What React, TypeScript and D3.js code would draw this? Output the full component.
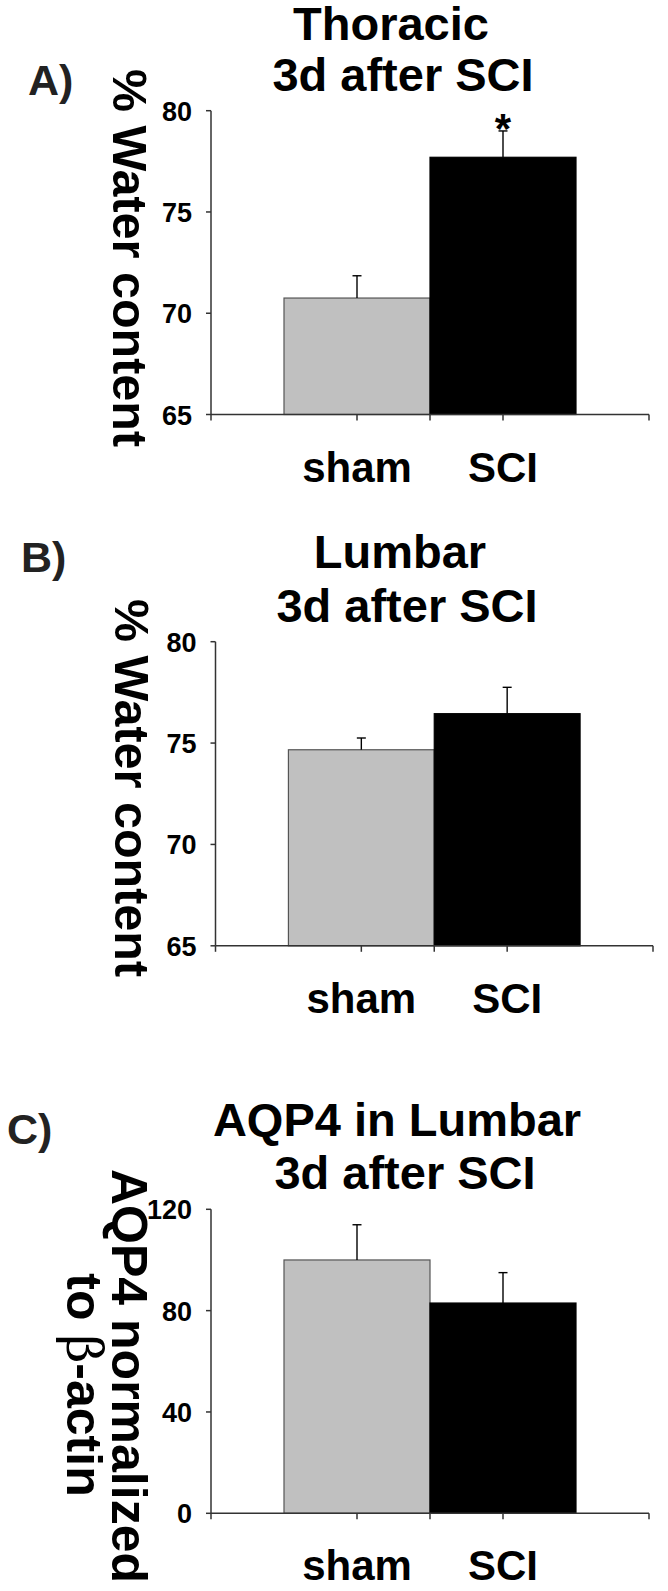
import React from "react";
import * as d3 from "d3";

// ---- data ----
const categories = ["sham", "SCI"];
const thoracicMean = [70.75, 77.7];
const thoracicSem = [1.1, 1.3];
const lumbarMean = [74.67, 76.45];
const lumbarSem = [0.58, 1.3];
const aqp4Mean = [100, 83];
const aqp4Sem = [13.9, 12];
const waterTicks = [65, 70, 75, 80];
const aqp4Ticks = [0, 40, 80, 120];
const barColors = ["#c0c0c0", "#000000"];
const significant = [false, true];

const FONT = "'Liberation Sans', Arial, Helvetica, sans-serif";

type PanelProps = {
  letter: string;
  letterX: number;
  letterY: number;
  titleLines: { text: string; cx: number; y: number }[];
  yLabelLines: { text: React.ReactNode; x: number; cy: number }[];
  yLabelSize: number;
  means: number[];
  sems: number[];
  stars: boolean[];
  ticks: number[];
  domain: [number, number];
  x0: number;
  x1: number;
  yTop: number;
  yBottom: number;
};

function Panel(p: PanelProps) {
  const y = d3.scaleLinear().domain(p.domain).range([p.yBottom, p.yTop]);
  const n = categories.length;
  const x = d3.scaleLinear().domain([0, n + 1]).range([p.x0, p.x1]);
  const xTicks = [0, ...categories.map((_, i) => i + 1), 1.5, n + 1];
  const capW = 9;
  return (
    <g>
      <text x={p.letterX} y={p.letterY} fontFamily={FONT} fontWeight="bold" fontSize={43} fill="#222">
        {p.letter}
      </text>
      {p.titleLines.map((t, i) => (
        <text key={i} x={t.cx} y={t.y} textAnchor="middle" fontFamily={FONT} fontWeight="bold" fontSize={47} fill="#000">
          {t.text}
        </text>
      ))}
      {p.yLabelLines.map((t, i) => (
        <text
          key={i}
          transform={`translate(${t.x},${t.cy}) rotate(90)`}
          textAnchor="middle"
          fontFamily={FONT}
          fontWeight="bold"
          fontSize={p.yLabelSize}
          fill="#000"
        >
          {t.text}
        </text>
      ))}
      {/* bars */}
      {p.means.map((m, i) => (
        <rect
          key={i}
          x={x(i + 0.5)}
          y={y(m)}
          width={x(i + 1.5) - x(i + 0.5)}
          height={y(p.domain[0]) - y(m)}
          fill={barColors[i]}
          stroke={i === 0 ? "#555" : "#000"}
          strokeWidth={1.2}
        />
      ))}
      {/* error bars */}
      {p.means.map((m, i) => {
        const cx = x(i + 1);
        const top = y(m + p.sems[i]);
        return (
          <g key={i} stroke="#000" strokeWidth={1.4}>
            <line x1={cx} x2={cx} y1={y(m)} y2={top} />
            <line x1={cx - capW / 2} x2={cx + capW / 2} y1={top} y2={top} />
          </g>
        );
      })}
      {p.stars.map((s, i) =>
        s ? (
          <text
            key={i}
            x={x(i + 1)}
            y={y(p.means[i] + p.sems[i]) + 12}
            textAnchor="middle"
            fontFamily={FONT}
            fontWeight="bold"
            fontSize={42}
          >
            *
          </text>
        ) : null
      )}
      {/* y axis */}
      <line x1={p.x0} x2={p.x0} y1={p.yTop} y2={p.yBottom} stroke="#333" strokeWidth={1.5} />
      {p.ticks.map((t) => (
        <g key={t}>
          <line x1={p.x0 - 5} x2={p.x0} y1={y(t)} y2={y(t)} stroke="#333" strokeWidth={1.5} />
          <text
            x={p.x0 - 19}
            y={y(t) + 10}
            textAnchor="end"
            fontFamily={FONT}
            fontWeight="bold"
            fontSize={27}
            fill="#000"
          >
            {t}
          </text>
        </g>
      ))}
      {/* x axis */}
      <line x1={p.x0} x2={p.x1} y1={p.yBottom} y2={p.yBottom} stroke="#333" strokeWidth={1.5} />
      {xTicks.map((t, i) => (
        <line key={i} x1={x(t)} x2={x(t)} y1={p.yBottom} y2={p.yBottom + 6} stroke="#333" strokeWidth={1.5} />
      ))}
      {categories.map((c, i) => (
        <text
          key={c}
          x={x(i + 1)}
          y={p.yBottom + 67}
          textAnchor="middle"
          fontFamily={FONT}
          fontWeight="bold"
          fontSize={42}
          fill="#000"
        >
          {c}
        </text>
      ))}
    </g>
  );
}

export default function App() {
  return (
    <svg
      width={668}
      height={1591}
      viewBox="0 0 668 1591"
      style={{ position: "absolute", left: 0, top: 0, background: "#fff" }}
    >
      <rect x={0} y={0} width={668} height={1591} fill="#fff" />
      <Panel
        letter="A)"
        letterX={28}
        letterY={95}
        titleLines={[
          { text: "Thoracic", cx: 391, y: 40 },
          { text: "3d after SCI", cx: 403, y: 91 },
        ]}
        yLabelLines={[{ text: "% Water content", x: 113, cy: 258 }]}
        yLabelSize={48.5}
        means={thoracicMean}
        sems={thoracicSem}
        stars={significant}
        ticks={waterTicks}
        domain={[65, 80]}
        x0={211}
        x1={649}
        yTop={110.7}
        yBottom={414.5}
      />
      <Panel
        letter="B)"
        letterX={21}
        letterY={572}
        titleLines={[
          { text: "Lumbar", cx: 400, y: 568 },
          { text: "3d after SCI", cx: 407, y: 622 },
        ]}
        yLabelLines={[{ text: "% Water content", x: 115, cy: 788 }]}
        yLabelSize={48.5}
        means={lumbarMean}
        sems={lumbarSem}
        stars={[false, false]}
        ticks={waterTicks}
        domain={[65, 80]}
        x0={215.5}
        x1={653}
        yTop={641.7}
        yBottom={945.8}
      />
      <Panel
        letter="C)"
        letterX={7}
        letterY={1144}
        titleLines={[
          { text: "AQP4 in Lumbar", cx: 397, y: 1136 },
          { text: "3d after SCI", cx: 405, y: 1189 },
        ]}
        yLabelLines={[
          { text: "AQP4 normalized", x: 112, cy: 1376 },
          {
            text: (
              <>
                {"to "}
                <tspan fontFamily="'DejaVu Serif', 'Liberation Serif', serif" fontWeight="normal">
                  β
                </tspan>
                {"-actin"}
              </>
            ),
            x: 67,
            cy: 1385,
          },
        ]}
        yLabelSize={50}
        means={aqp4Mean}
        sems={aqp4Sem}
        stars={[false, false]}
        ticks={aqp4Ticks}
        domain={[0, 120]}
        x0={211}
        x1={649}
        yTop={1209.3}
        yBottom={1513.3}
      />
    </svg>
  );
}
